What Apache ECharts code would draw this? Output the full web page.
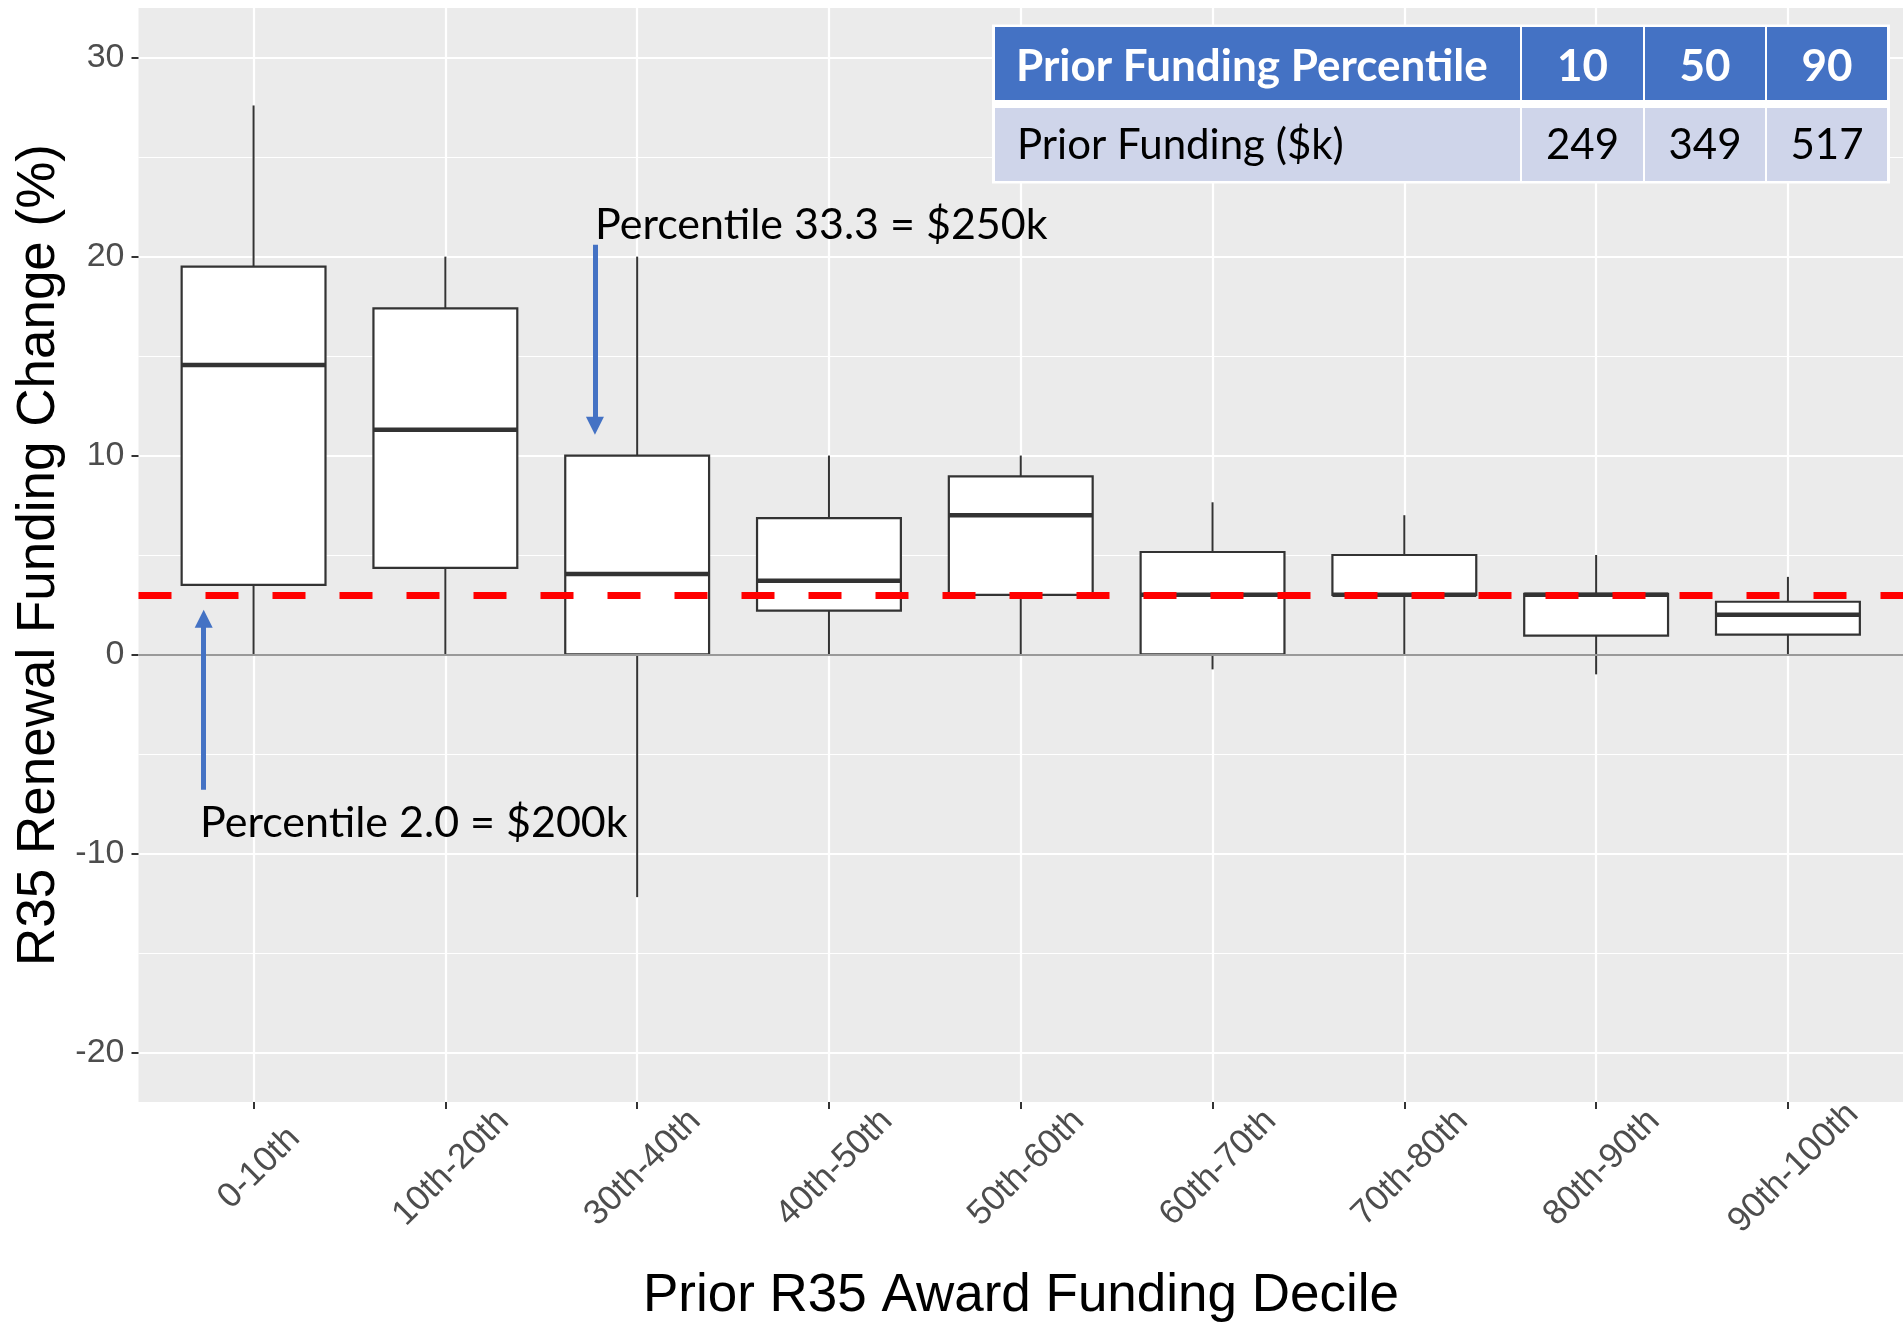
<!DOCTYPE html>
<html>
<head>
<meta charset="utf-8">
<title>R35 Renewal Funding Change by Prior Funding Decile</title>
<script src="https://cdn.jsdelivr.net/npm/echarts@6/dist/echarts.min.js"></script>
<style>
  html, body { margin: 0; padding: 0; background: #ffffff; }
  #chart { width: 1903px; height: 1324px; }
</style>
</head>
<body>
<div id="chart"></div>
<script>
// ---- data -------------------------------------------------------------
const categories = ['0-10th', '10th-20th', '30th-40th', '40th-50th', '50th-60th',
                    '60th-70th', '70th-80th', '80th-90th', '90th-100th'];
const whiskerLow  = [0,    0,    -12.2, 0,    0,    -0.75, 0,   -1.0,  0];
const q1          = [3.5,  4.35,  0,    2.2,  3.0,   0,    3.0,  0.95, 1.0];
const median      = [14.55, 11.3, 4.05, 3.7,  7.0,   3.0,  3.0,  3.0,  2.0];
const q3          = [19.5, 17.4,  10.0, 6.85, 8.95,  5.15, 5.0,  3.05, 2.65];
const whiskerHigh = [27.6, 20.0,  20.0, 10.0, 10.0,  7.65, 7.0,  5.0,  3.9];

const yMajorTicks = [-20, -10, 0, 10, 20, 30];
const yMinorTicks = [-15, -5, 5, 15, 25];
const referenceLevel = 3;   // dashed reference line (%)

// table of prior funding percentiles
const tableHeader = ['Prior Funding Percentile', '10', '50', '90'];
const tableRow    = ['Prior Funding ($k)', '249', '349', '517'];

// annotation arrows: [x, yStart] -> [x, yTip]
const arrows = [
  { x: 1.78,  from: 20.6, tip: 11.05 },
  { x: -0.26, from: -6.8, tip: 2.25 }
];
const annotations = ['Percentile 33.3 = $250k', 'Percentile 2.0 = $200k'];

// ---- chart ------------------------------------------------------------
const AXIS_FONT = '"Liberation Sans", Arial, sans-serif';
const NOTE_FONT = 'Lato, "Open Sans", sans-serif';
const BOX_WIDTH = 0.75;
const PX_PER_UNIT_Y = 1094 / 55;
const HEAD = 18;
const LABEL_NUDGE = 0.03;   // rotated tick labels sit slightly right of their tick

const categoryIndex = categories.map((c, i) => i);

const boxData = categories.map((c, i) =>
  [i, whiskerLow[i], q1[i], median[i], q3[i], whiskerHigh[i]]);

function renderBox(params, api) {
  const x = api.value(0);
  const pLo = api.coord([x, api.value(1)]);
  const pA  = api.coord([x, api.value(2)]);
  const pM  = api.coord([x, api.value(3)]);
  const pB  = api.coord([x, api.value(4)]);
  const pHi = api.coord([x, api.value(5)]);
  const w = api.size([BOX_WIDTH, 0])[0];
  const stroke = '#333333';
  return {
    type: 'group',
    children: [
      { type: 'line', shape: { x1: pHi[0], y1: pHi[1], x2: pB[0], y2: pB[1] },
        style: { stroke, lineWidth: 2 } },
      { type: 'line', shape: { x1: pA[0], y1: pA[1], x2: pLo[0], y2: pLo[1] },
        style: { stroke, lineWidth: 2 } },
      { type: 'rect', shape: { x: pB[0] - w / 2, y: pB[1], width: w, height: pA[1] - pB[1] },
        style: { fill: '#ffffff', stroke, lineWidth: 2.2 } },
      { type: 'line', shape: { x1: pM[0] - w / 2, y1: pM[1], x2: pM[0] + w / 2, y2: pM[1] },
        style: { stroke, lineWidth: 4.5 } }
    ]
  };
}

// table geometry
const tableCols = [[995, 1520], [1522, 1643], [1645, 1765], [1767, 1887]];
const headRow = [27, 100];
const bodyRow = [108, 181];
const tableEls = [
  { type: 'rect', shape: { x: 992, y: 24.5, width: 898, height: 159 }, style: { fill: '#ffffff' } }
];
tableCols.forEach((c, j) => {
  tableEls.push({ type: 'rect', shape: { x: c[0], y: headRow[0], width: c[1] - c[0], height: headRow[1] - headRow[0] },
                  style: { fill: '#4472C4' } });
  tableEls.push({ type: 'rect', shape: { x: c[0], y: bodyRow[0], width: c[1] - c[0], height: bodyRow[1] - bodyRow[0] },
                  style: { fill: '#CFD5EA' } });
  const first = j === 0;
  tableEls.push({ type: 'text', style: {
      text: tableHeader[j], x: first ? 1016 : (c[0] + c[1]) / 2, y: 66.5,
      align: first ? 'left' : 'center', verticalAlign: 'middle',
      font: 'bold 44px ' + NOTE_FONT, fill: '#ffffff' } });
  tableEls.push({ type: 'text', style: {
      text: tableRow[j], x: first ? 1017 : (c[0] + c[1]) / 2, y: 145.5,
      align: first ? 'left' : 'center', verticalAlign: 'middle',
      font: '42px ' + NOTE_FONT, fill: '#000000' } });
});
tableEls.forEach(e => { e.z = 100; });

const option = {
  backgroundColor: '#ffffff',
  animation: false,
  grid: {
    left: 138.5, right: 0, top: 8, bottom: 222,
    show: true, backgroundColor: '#EBEBEB', borderWidth: 0,
    outerBoundsMode: 'none'
  },
  xAxis: {
    type: 'value', min: -0.6, max: 8.6,
    axisLine: { show: false, onZero: false },
    axisTick: { show: true, customValues: categoryIndex, length: 7,
                lineStyle: { color: '#333333', width: 2 } },
    axisLabel: {
      customValues: categoryIndex.map(i => i + LABEL_NUDGE),
      formatter: v => categories[Math.round(v)],
      rotate: 45, align: 'center', verticalAlign: 'middle', margin: 66,
      fontFamily: AXIS_FONT, fontSize: 35, color: '#4D4D4D'
    },
    splitLine: { show: true, lineStyle: { color: '#ffffff', width: 2.2 } }
  },
  yAxis: [
    {
      type: 'value', min: -22.5, max: 32.5,
      axisLine: { show: false, onZero: false },
      axisTick: { show: true, customValues: yMajorTicks, length: 7,
                  lineStyle: { color: '#333333', width: 2 } },
      axisLabel: { customValues: yMajorTicks, margin: 14,
                   fontFamily: AXIS_FONT, fontSize: 34, color: '#4D4D4D' },
      splitLine: { show: true, lineStyle: { color: '#ffffff', width: 2.2 } }
    },
    {
      type: 'value', min: -22.5, max: 32.5, position: 'left',
      axisLine: { show: false, onZero: false },
      axisTick: { show: false, customValues: yMinorTicks },
      axisLabel: { show: false, customValues: yMinorTicks },
      splitLine: { show: true, lineStyle: { color: '#ffffff', width: 1.1 } }
    }
  ],
  graphic: {
    elements: [
      { type: 'text', z: 100, style: {
          text: 'R35 Renewal Funding Change (%)', x: 0, y: 0,
          align: 'center', verticalAlign: 'middle',
          font: '53px ' + AXIS_FONT, fill: '#000000' },
        x: 39, y: 555, rotation: Math.PI / 2 },
      { type: 'text', z: 100, style: {
          text: 'Prior R35 Award Funding Decile', x: 1021, y: 1296,
          align: 'center', verticalAlign: 'middle',
          font: '53px ' + AXIS_FONT, fill: '#000000' } },
      { type: 'text', z: 100, style: {
          text: annotations[0], x: 595, y: 225, align: 'left', verticalAlign: 'middle',
          font: '43px ' + NOTE_FONT, fill: '#000000' } },
      { type: 'text', z: 100, style: {
          text: annotations[1], x: 200, y: 823, align: 'left', verticalAlign: 'middle',
          font: '43px ' + NOTE_FONT, fill: '#000000' } }
    ].concat(tableEls)
  },
  series: [
    {
      type: 'custom', name: 'box', z: 2,
      renderItem: renderBox,
      encode: { x: 0, y: [1, 2, 3, 4, 5] },
      data: boxData
    },
    {
      type: 'line', name: 'zero', z: 3, data: [], silent: true,
      markLine: {
        silent: true, symbol: 'none', label: { show: false },
        lineStyle: { color: '#999999', width: 2, type: 'solid' },
        emphasis: { disabled: true },
        data: [{ yAxis: 0 }]
      }
    },
    {
      type: 'line', name: 'reference', z: 4, data: [], silent: true,
      markLine: {
        silent: true, symbol: 'none', label: { show: false },
        lineStyle: { color: '#FF0000', width: 7, type: [33, 34] },
        emphasis: { disabled: true },
        data: [{ yAxis: referenceLevel }]
      }
    },
    {
      type: 'line', name: 'arrows', z: 5, data: [], silent: true,
      markLine: {
        silent: true, symbol: ['none', 'triangle'], symbolSize: [HEAD, HEAD],
        label: { show: false },
        lineStyle: { color: '#4472C4', width: 5, type: 'solid' },
        itemStyle: { color: '#4472C4' },
        emphasis: { disabled: true },
        data: arrows.map(a => {
          const dir = a.tip > a.from ? 1 : -1;
          return [{ coord: [a.x, a.from] },
                  { coord: [a.x, a.tip - dir * (HEAD / 2) / PX_PER_UNIT_Y] }];
        })
      }
    }
  ]
};

const chart = echarts.init(document.getElementById('chart'), null, { renderer: 'canvas' });
chart.setOption(option);
</script>
</body>
</html>
